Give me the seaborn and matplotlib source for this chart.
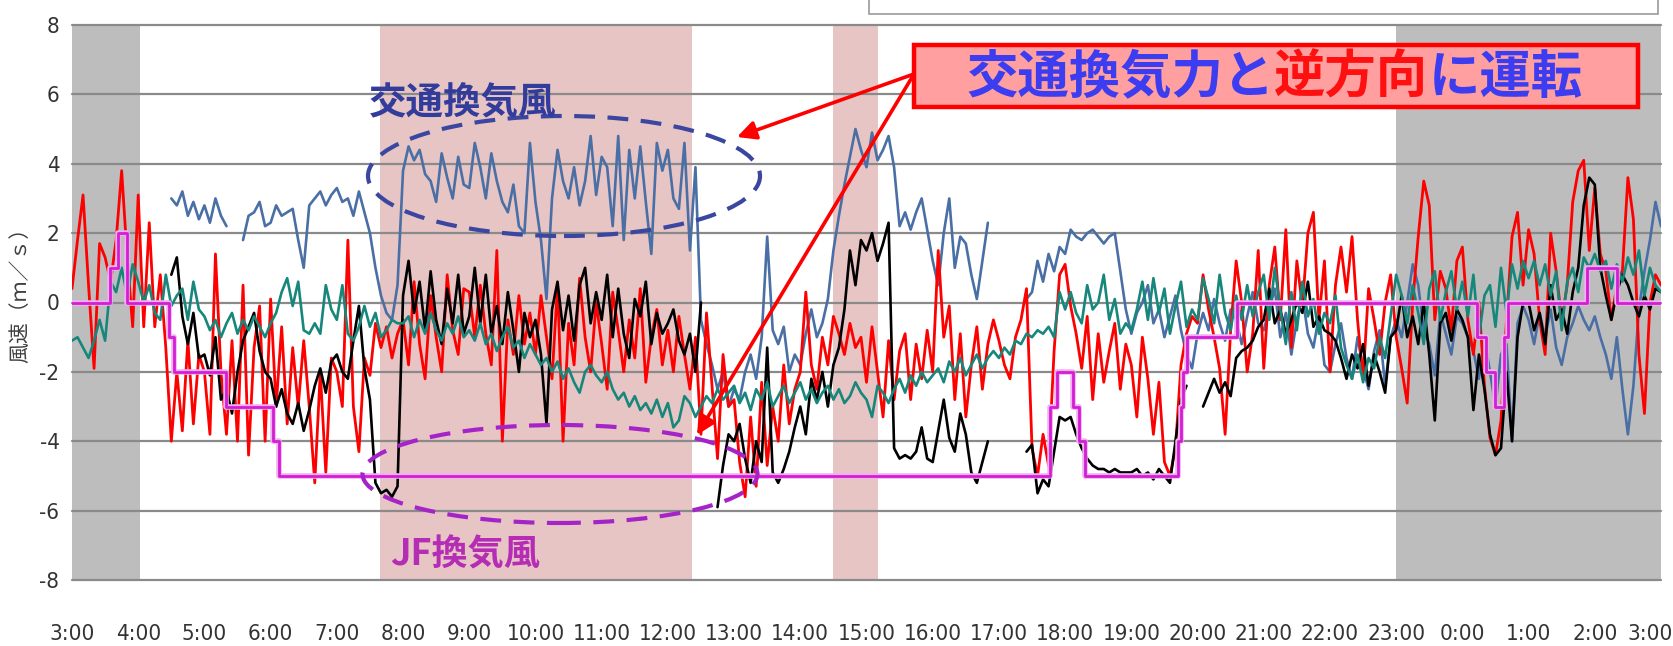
import numpy as np
import pandas as pd
import matplotlib.pyplot as plt
import seaborn as sns
from matplotlib import font_manager
from matplotlib import patheffects as pe
from matplotlib import transforms as mtrans
from matplotlib.patches import Ellipse, Rectangle

NA = np.nan

# 5-minute readings, 3:00 -> 3:00 next day, one row per hour (+ final point)
red_ms = [
    0.4, 1.8, 3.1, 0.5, -1.9, 1.7, 1.3, 0.6, 1.8, 3.8, 1.3, -0.7,
    3.1, -0.7, 2.3, -0.7, 0.8, -1.3, -4.0, -2.0, -3.7, -1.1, -3.5, -1.5,
    -2.0, -3.8, 1.4, -2.0, -3.8, -1.1, -4.0, 0.5, -4.4, -1.3, -0.1, -4.0,
    0.1, -3.0, -0.7, -3.5, -1.3, -3.0, -1.1, -3.0, -5.2, -2.0, -4.9, -1.6,
    -2.0, -3.0, 1.8, -3.0, -4.3, -1.6, -2.1, -0.6, -1.3, -0.7, -1.6, -0.9,
    -0.5, -1.8, 0.6, -1.2, -2.2, 0.2, -1.0, -2.0, 0.8, -0.8, -1.5, 0.4,
    0.3, -1.0, 0.5, -0.9, -1.8, 1.5, -4.0, -0.5, -1.5, 0.2, -1.2, -0.3,
    -1.5, 0.2, -1.0, -2.2, 0.5, -4.0, -0.6, -1.8, 0.7, -1.0, -2.0, 0.0,
    -1.2, -2.5, 0.3, -0.8, -2.0, -0.5, -1.6, 0.4, -2.3, -1.0, -0.2, -1.8,
    -0.8, -2.0, -0.4, -1.5, -2.5, -1.0, -3.8, -0.3, -2.4, -4.5, -1.5, -3.0,
    -2.8, -4.6, -5.6, -3.3, -5.3, -2.3, -4.7, -3.0, -4.0, -1.8, -3.5, -2.5,
    -2.0, 0.3, -1.8, -2.5, -1.0, -1.8, -0.4, -0.9, -1.5, -0.6, -1.3, -1.0,
    -2.3, -0.7, -2.0, -3.3, -1.1, -2.8, -1.4, -0.9, -2.8, -1.2, -2.2, -0.8,
    -2.0, 1.5, -1.0, -0.1, -2.8, -0.9, -3.3, -1.8, -0.7, -2.5, -1.2, -0.5,
    -1.1, -1.8, -2.2, -1.0, -0.5, 0.4, -4.2, -5.0, -3.8, -4.7, -1.4, 0.8,
    1.1, -0.1, -0.9, -1.9, -0.4, -2.8, -0.9, -2.3, -1.4, -0.6, -2.5, -1.2,
    -1.8, -3.3, -1.0, -2.2, -3.8, -2.3, -4.6, -5.0, -4.2, -1.8, -0.9, -0.4,
    -0.6, 0.8, -0.2, -1.0, -1.9, -3.8, -0.8, 1.2, 0.0, -2.0, -0.9, 1.5,
    -1.9, 0.5, 1.6, -0.5, 2.1, -1.3, 1.2, -0.1, 2.0, 2.6, -0.5, 1.2,
    -2.0, 0.5, 1.6, 0.3, 1.9, -0.5, -2.2, 0.4, -0.5, -1.5, 0.0, 0.8,
    -1.0, -1.9, -2.9, 0.0, 1.9, 3.5, 2.8, -0.5, 0.9, 0.4, -0.8, 1.2,
    1.6, -0.5, -1.5, 0.0, -2.4, -3.9, -4.4, -3.4, -0.5, 1.9, 2.6, 0.5,
    2.1, 1.4, -0.5, -1.5, 2.0, 0.9, -0.5, 0.5, 2.9, 3.8, 4.1, 1.5,
    3.3, 1.4, 0.9, -0.5, 0.5, 0.9, 3.6, 2.4, -1.5, -3.2, 0.0, 0.8,
    0.5,
]

black_ms = [
    NA, NA, NA, NA, NA, NA, NA, NA, NA, NA, NA, NA,
    NA, NA, NA, NA, NA, NA, 0.8, 1.3, -0.4, -1.2, -0.3, -1.6,
    -1.5, -2.1, -1.0, -2.8, -2.5, -3.2, -2.0, -1.1, -0.7, -0.3, -1.4, -2.0,
    -2.2, -3.0, -2.5, -3.2, -3.5, -2.9, -3.7, -3.1, -2.4, -1.9, -2.6, -1.7,
    -1.5, -2.0, -2.2, -1.1, -0.1, -1.9, -2.8, -5.2, -5.5, -5.4, -5.6, -5.3,
    0.2, 1.2, -0.3, 0.6, -0.8, 0.9, -0.5, -1.2, 0.4, -0.6, 0.8, -0.9,
    -0.4, 1.0, -0.6, 0.8, -0.9, -0.1, -1.2, 0.3, -0.8, -2.0, -0.3, -1.0,
    -0.5, -1.5, -3.5, -0.2, 0.6, -0.8, 0.2, -1.1, 0.5, 1.0, -0.6, 0.3,
    -0.5, 0.8, -1.0, 0.4, -0.9, -1.6, 0.1, -0.4, 0.6, -1.2, -0.3, -0.9,
    -0.6, -0.2, -1.1, -1.5, -0.9, -2.0, 0.0, NA, NA, -5.9, -4.7, -3.8,
    -4.0, -3.5, -4.5, -5.2, -4.0, -4.6, -1.3, -4.9, -5.2, -4.8, -4.3, -3.6,
    -3.0, -3.8, -2.2, -2.8, -2.0, -3.0, -1.8, -1.3, -0.2, 1.5, 0.5, 1.8,
    1.5, 2.0, 1.2, 1.7, 2.3, -4.2, -4.5, -4.4, -4.5, -4.3, -3.6, -4.5,
    -4.6, -3.7, -2.8, -3.9, -4.3, -3.2, -3.8, -4.9, -5.2, -4.6, -4.0, NA,
    NA, NA, NA, NA, NA, -4.3, -4.1, -5.5, -5.1, -5.3, -4.3, -3.3,
    -3.4, -3.3, -3.8, -4.2, -4.5, -4.7, -4.8, -4.8, -4.9, -4.8, -4.9, -4.9,
    -4.9, -4.8, -5.0, -4.9, -5.1, -4.8, -5.0, -5.2, -4.0, -2.8, -2.4, NA,
    NA, -3.0, -2.6, -2.2, -2.6, -2.3, -2.7, -1.6, -1.4, -1.3, -1.1, -0.7,
    -0.5, 0.4, -0.6, -0.2, -0.9, -0.5, 0.0, -0.3, 0.6, -0.7, -0.4, -0.8,
    -0.9, -1.1, -1.6, -2.2, -1.5, -1.9, -1.2, -2.4, -1.5, -2.0, -2.6, -1.0,
    -0.8, 0.2, -1.0, -0.4, -1.2, 0.0, -1.5, -3.4, -0.6, -0.3, -1.1, -0.2,
    -0.5, -1.0, -3.1, -1.5, -2.5, -3.8, -4.4, -4.2, -2.0, -4.0, -1.0, 0.0,
    0.0, -0.8, -0.3, -1.2, 0.5, -0.5, -0.2, -0.9, 0.3, 1.0, 2.8, 3.6,
    3.4, 1.0, 0.2, -0.5, 0.3, 0.8, 0.5, 0.0, -0.4, 0.2, -0.2, 0.4,
    0.3,
]

traffic_ms = [
    NA, NA, NA, NA, NA, NA, NA, NA, NA, NA, NA, NA,
    NA, NA, NA, NA, NA, NA, 3.0, 2.8, 3.2, 2.5, 2.9, 2.4,
    2.8, 2.3, 3.0, 2.5, 2.2, NA, NA, 1.8, 2.5, 2.6, 2.9, 2.2,
    2.3, 2.8, 2.5, 2.6, 2.7, 1.8, 1.0, 2.8, 3.0, 3.2, 2.8, 3.1,
    3.3, 2.9, 3.0, 2.5, 3.2, 2.6, 2.0, 1.0, 0.2, -0.3, -0.5, 0.5,
    3.8, 4.5, 4.1, 4.4, 3.7, 3.5, 2.9, 4.3, 3.6, 3.0, 4.2, 3.4,
    3.3, 4.6, 3.9, 3.0, 4.3, 3.5, 2.9, 2.6, 3.4, 2.2, 2.0, 4.6,
    2.9, 1.8, 0.1, 3.0, 4.4, 3.5, 3.0, 3.9, 2.8, 3.5, 4.8, 3.1,
    4.2, 3.9, 2.2, 4.8, 1.8, 4.4, 3.0, 4.5, 2.9, 1.4, 4.6, 3.8,
    4.4, 3.0, 2.7, 4.6, 1.5, 3.9, -0.5, -1.2, -1.8, -2.5, -2.0, -3.0,
    -2.5, -2.8, -2.0, -1.5, -2.2, -1.0, 1.9, -0.8, -1.2, -0.7, -2.0, -1.5,
    -1.8, -0.9, -0.2, -1.0, -0.6, 0.1, 1.5, 2.5, 3.4, 4.2, 5.0, 4.4,
    3.9, 4.9, 4.1, 4.4, 4.8, 3.9, 2.2, 2.6, 2.1, 2.6, 3.0, 2.1,
    1.2, 0.5, 2.0, 3.0, 1.0, 1.9, 1.7, 0.8, 0.1, 1.2, 2.3, NA,
    NA, NA, NA, NA, NA, 0.1, 0.3, 1.2, 0.6, 1.4, 0.9, 1.6,
    1.4, 2.1, 1.9, 1.8, 2.0, 2.1, 1.9, 1.7, 1.9, 2.0, 0.9, -0.2,
    -0.9, -0.3, 0.0, 0.5, -0.6, -0.2, -1.0, -0.4, 0.2, -0.8, -1.5, -1.9,
    -0.9, -0.3, -0.8, 0.1, -0.6, -1.1, -0.2, -0.5, -1.2, -0.4, 0.3, -0.6,
    -0.8, -0.2, 0.4, -1.0, -0.3, -1.5, -0.5, 0.2, -0.9, -1.3, -0.4, -1.8,
    -2.0, -1.2, -0.6, -1.6, -2.2, -1.0, -1.9, -2.5, -1.4, -0.8, -2.4, -1.0,
    -0.5, -1.0, 0.0, 1.1, 0.5, -0.8, -1.2, -2.1, -0.3, -0.9, -1.5, -0.4,
    -0.6, -1.0, -1.4, -2.2, -1.0, -2.0, -3.0, -1.5, -1.2, -4.0, -0.6, -0.1,
    -0.5, -1.2, -0.3, -1.0, -0.2, -1.3, -1.8, -1.0, -0.6, -0.1, -0.5, -0.8,
    -0.4, -1.0, -1.5, -2.2, -1.0, -2.5, -3.8, -2.4, -0.2, 0.9, 1.8, 2.9,
    2.2,
]

teal_ms = [
    -1.1, -1.0, -1.3, -1.6, -1.1, -0.5, -1.1, 0.6, 0.3, 1.0, 0.2, 1.1,
    0.6, 0.0, 0.5, -0.3, -0.5, 0.8, -0.1, 0.2, 0.4, -0.5, 0.6, -0.2,
    -0.4, -0.8, -0.5, -1.0, -0.6, -0.3, -0.9, -0.5, -0.8, -0.4, -0.7, -1.0,
    -0.6, -0.3, 0.3, 0.7, -0.1, 0.6, -0.8, -0.9, -0.6, -0.9, 0.5, -0.2,
    -0.5, 0.5, -0.9, -1.1, -0.7, -0.1, -0.7, -0.3, -1.0, -0.8, -0.5, -0.6,
    -0.6, -0.4, -1.0, -0.5, -0.9, -0.3, -0.8, -1.1, -0.6, -0.9, -0.4, -1.0,
    -0.8, -1.1, -0.6, -1.2, -0.9, -1.4, -1.0, -0.7, -1.3, -1.1, -1.6, -1.2,
    -1.5, -1.8, -1.6, -2.0, -1.7, -2.2, -1.9, -2.3, -2.6, -2.0, -1.8, -2.1,
    -2.3, -2.0, -2.5, -2.8, -2.6, -3.0, -2.7, -3.1, -2.9, -3.2, -2.8, -3.3,
    -2.9, -3.6, -3.4, -2.7, -2.9, -3.3, -3.0, -2.7, -2.9, -2.5, -2.8, -2.6,
    -2.4, -2.9, -2.6, -3.1, -2.5, -2.8, -2.3, -3.0, -2.7, -2.4, -2.9, -2.6,
    -2.3, -2.8, -2.5, -2.9, -2.6, -2.4, -2.8, -2.5, -2.9, -2.7, -2.3, -2.6,
    -2.8, -3.3, -2.4, -2.6, -2.9, -2.5, -2.2, -2.6, -2.1, -2.4, -2.0, -2.3,
    -2.1, -1.9, -2.3, -1.7, -2.0, -1.6, -2.1, -1.8, -1.5, -1.9, -1.6, -1.4,
    -1.6, -1.3, -1.5, -1.1, -1.2, -0.9, -1.0, -0.8, -0.9, -0.7, -1.0, 0.3,
    -0.2, 0.3, -0.3, -0.6, 0.5, -0.2, 0.0, 0.8, -0.5, 0.1, -0.9, -0.6,
    -0.8, -0.2, 0.6, -0.5, 0.7, -0.3, 0.4, -0.9, -0.1, 0.6, -0.7, -0.2,
    -0.5, 0.7, 0.1, -0.6, 0.8, -0.3, -0.8, 0.2, -0.5, 0.5, -0.4, 0.3,
    0.8, -0.5, 1.0, -0.2, -1.2, 0.3, -0.8, 0.6, -0.4, 0.1, -0.9, -0.3,
    -0.6, 0.2, -1.3, -1.8, -2.2, -1.5, -2.3, -1.6, -1.9, -1.0, -1.6, -0.4,
    0.8, 0.2, -0.6, 0.5, -0.3, -1.2, 0.4, 0.9, -0.5, 0.3, 0.9, -0.2,
    0.6, -0.4, 0.8, -1.0, 0.2, 0.5, -0.7, 1.0, -0.3, 1.1, 0.4, 1.2,
    0.7, 1.2, 0.5, 1.1, 0.2, 0.9, -0.8, 0.6, 1.0, 0.3, 1.3, 1.0,
    1.4, 0.9, 1.2, 0.4, 1.1, 0.6, 1.3, 0.8, 1.5, 0.2, 1.0, 0.5,
    0.3,
]

# JF (jet fan) induced wind, stepwise setting changes
jf_times = ["3:00", "3:34", "3:42", "3:50", "4:28", "4:32", "5:20", "6:02", "6:08",
            "17:46", "17:53", "18:07", "18:13", "18:18", "19:42", "19:45", "19:47",
            "19:50", "20:36", "0:13", "0:21", "0:30", "0:38", "0:41", "1:53", "2:20", "3:00"]
jf_vals = [0, 1, 2, 0, -1, -2, -3, -4, -5,
           -3, -2, -3, -4, -5, -4, -3, -2,
           -1, 0, -1, -2, -3, -1, 0, 1, 0, 0]

gray_spans = [("3:00", "4:02"), ("23:00", "3:00")]
pink_spans = [("7:39", "12:22"), ("14:30", "15:10")]

hour_labels = ["3:00", "4:00", "5:00", "6:00", "7:00", "8:00", "9:00", "10:00", "11:00",
               "12:00", "13:00", "14:00", "15:00", "16:00", "17:00", "18:00", "19:00",
               "20:00", "21:00", "22:00", "23:00", "0:00", "1:00", "2:00", "3:00"]
y_ticks = [-8, -6, -4, -2, 0, 2, 4, 6, 8]


def clock_h(s, end=False):
    h, m = map(int, s.split(":"))
    v = (h - 3) % 24 + m / 60
    return 24.0 if (end and v == 0) else v


t5 = np.arange(len(red_ms)) / 12.0


def seg_frame(vals):
    df = pd.DataFrame({"h": t5, "v": np.asarray(vals, dtype=float)})
    df["seg"] = df["v"].isna().cumsum()
    return df.dropna()


sns.set_theme(style="white")
fonts = font_manager.fontManager.ttflist
names = {f.name for f in fonts}
num_stretch = "normal"
if "Liberation Sans Narrow" in names:
    num_font = "Liberation Sans Narrow"
elif any(f.name == "DejaVu Sans" and "ondensed" in str(f.stretch) for f in fonts):
    num_font, num_stretch = "DejaVu Sans", "condensed"
else:
    num_font = "Liberation Sans"
cjk = ["Noto Sans CJK JP", "DejaVu Sans"]
plt.rcParams["font.family"] = cjk

W, H = 1674, 646
fig = plt.figure(figsize=(W / 100, H / 100), dpi=100)
ax = fig.add_axes([72 / W, 1 - 580 / H, (1661 - 72) / W, (580 - 25) / H])
ax.set_xlim(0, 24)
ax.set_ylim(-8, 8)

for a, b in gray_spans:
    ax.axvspan(clock_h(a), clock_h(b, end=True), color="#bdbdbd", lw=0, zorder=0)
for a, b in pink_spans:
    ax.axvspan(clock_h(a), clock_h(b, end=True), color="#e8c5c5", lw=0, zorder=0)
for y in y_ticks:
    ax.axhline(y, color="#8a8a8a", lw=1.6, zorder=1, clip_on=False)

series = [
    (traffic_ms, "#4a6fa5", 1.9, 2),
    (red_ms, "#ff0000", 2.0, 3),
    (black_ms, "#000000", 1.9, 4),
    (teal_ms, "#17877b", 1.9, 5),
]
for vals, col, lw, z in series:
    sns.lineplot(data=seg_frame(vals), x="h", y="v", units="seg", estimator=None,
                 sort=False, color=col, lw=lw, legend=False, zorder=z, ax=ax)

jf = pd.DataFrame({"h": [clock_h(s, end=(i == len(jf_times) - 1)) for i, s in enumerate(jf_times)],
                   "v": jf_vals})
sns.lineplot(data=jf, x="h", y="v", estimator=None, sort=False, drawstyle="steps-post",
             color="#d41ed4", lw=2.0, legend=False, zorder=6, ax=ax,
             path_effects=[pe.Stroke(linewidth=4, foreground="#f0b0f0"), pe.Normal()])

for s in ax.spines.values():
    s.set_visible(False)
ax.set_xticks(range(25))
ax.set_xticklabels(hour_labels)
ax.set_yticks(y_ticks)
ax.set_yticklabels([str(v) for v in y_ticks])
ax.tick_params(axis="both", length=0, colors="#333333")
ax.tick_params(axis="x", pad=32)
ax.tick_params(axis="y", pad=9)
for lab in ax.get_xticklabels() + ax.get_yticklabels():
    lab.set_fontfamily(num_font)
    lab.set_fontstretch(num_stretch)
    lab.set_fontsize(16)
last = ax.get_xticklabels()[-1]
last.set_horizontalalignment("right")
last.set_transform(last.get_transform() + mtrans.ScaledTranslation(12 / 100, 0, fig.dpi_scale_trans))
ax.set_xlabel("")
ax.set_ylabel("")
fig.text(20 / W, 1 - 290 / H, "風速（ｍ／ｓ）", rotation=90, ha="center", va="center",
         fontsize=15, color="#404040")

# legend box (cut off at the top of the image)
fig.patches.append(Rectangle((869 / W, 1 - 14 / H), (1658 - 869) / W, 0.05,
                             transform=fig.transFigure, facecolor="white",
                             edgecolor="#9a9a9a", lw=1.2))

# annotations
ax.add_patch(Ellipse((564 / W, 1 - 176 / H), 392 / W, 120 / H, transform=fig.transFigure,
                     fill=False, edgecolor="#3a46a0", lw=3, ls=(0, (5, 3)), zorder=7, clip_on=False))
ax.add_patch(Ellipse((560 / W, 1 - 474 / H), 395 / W, 98 / H, transform=fig.transFigure,
                     fill=False, edgecolor="#a424c8", lw=3, ls=(0, (5, 3)), zorder=7, clip_on=False))
fig.text(463 / W, 1 - 103 / H, "交通換気風", ha="center", va="center", fontsize=27,
         fontweight="bold", color="#323c9a")
fig.text(465 / W, 1 - 555 / H, "JF換気風", ha="center", va="center", fontsize=26,
         fontweight="bold", color="#b42db4")

fig.patches.append(Rectangle((914 / W, 1 - 107 / H), (1638 - 914) / W, 62 / H,
                             transform=fig.transFigure, facecolor="#ff9f9f",
                             edgecolor="#ff0000", lw=3.2, zorder=8))
renderer = fig.canvas.get_renderer()
x_px = 966
for piece, col in [("交通換気力と", "#3c3cf0"), ("逆方向", "#ff1010"), ("に運転", "#3c3cf0")]:
    t = fig.text(x_px / W, 1 - 77 / H, piece, ha="left", va="center", fontsize=37,
                 fontweight="bold", color=col, zorder=9)
    x_px = t.get_window_extent(renderer).x1

for head in [(737, 137), (697, 435)]:
    ax.annotate("", xy=(head[0] / W, 1 - head[1] / H), xycoords="figure fraction",
                xytext=(914 / W, 1 - 74 / H), textcoords="figure fraction",
                arrowprops=dict(arrowstyle="-|>", color="#ff0000", lw=2.6,
                                mutation_scale=28, shrinkA=0, shrinkB=0), zorder=10)

fig.savefig("out.png", dpi=100)
